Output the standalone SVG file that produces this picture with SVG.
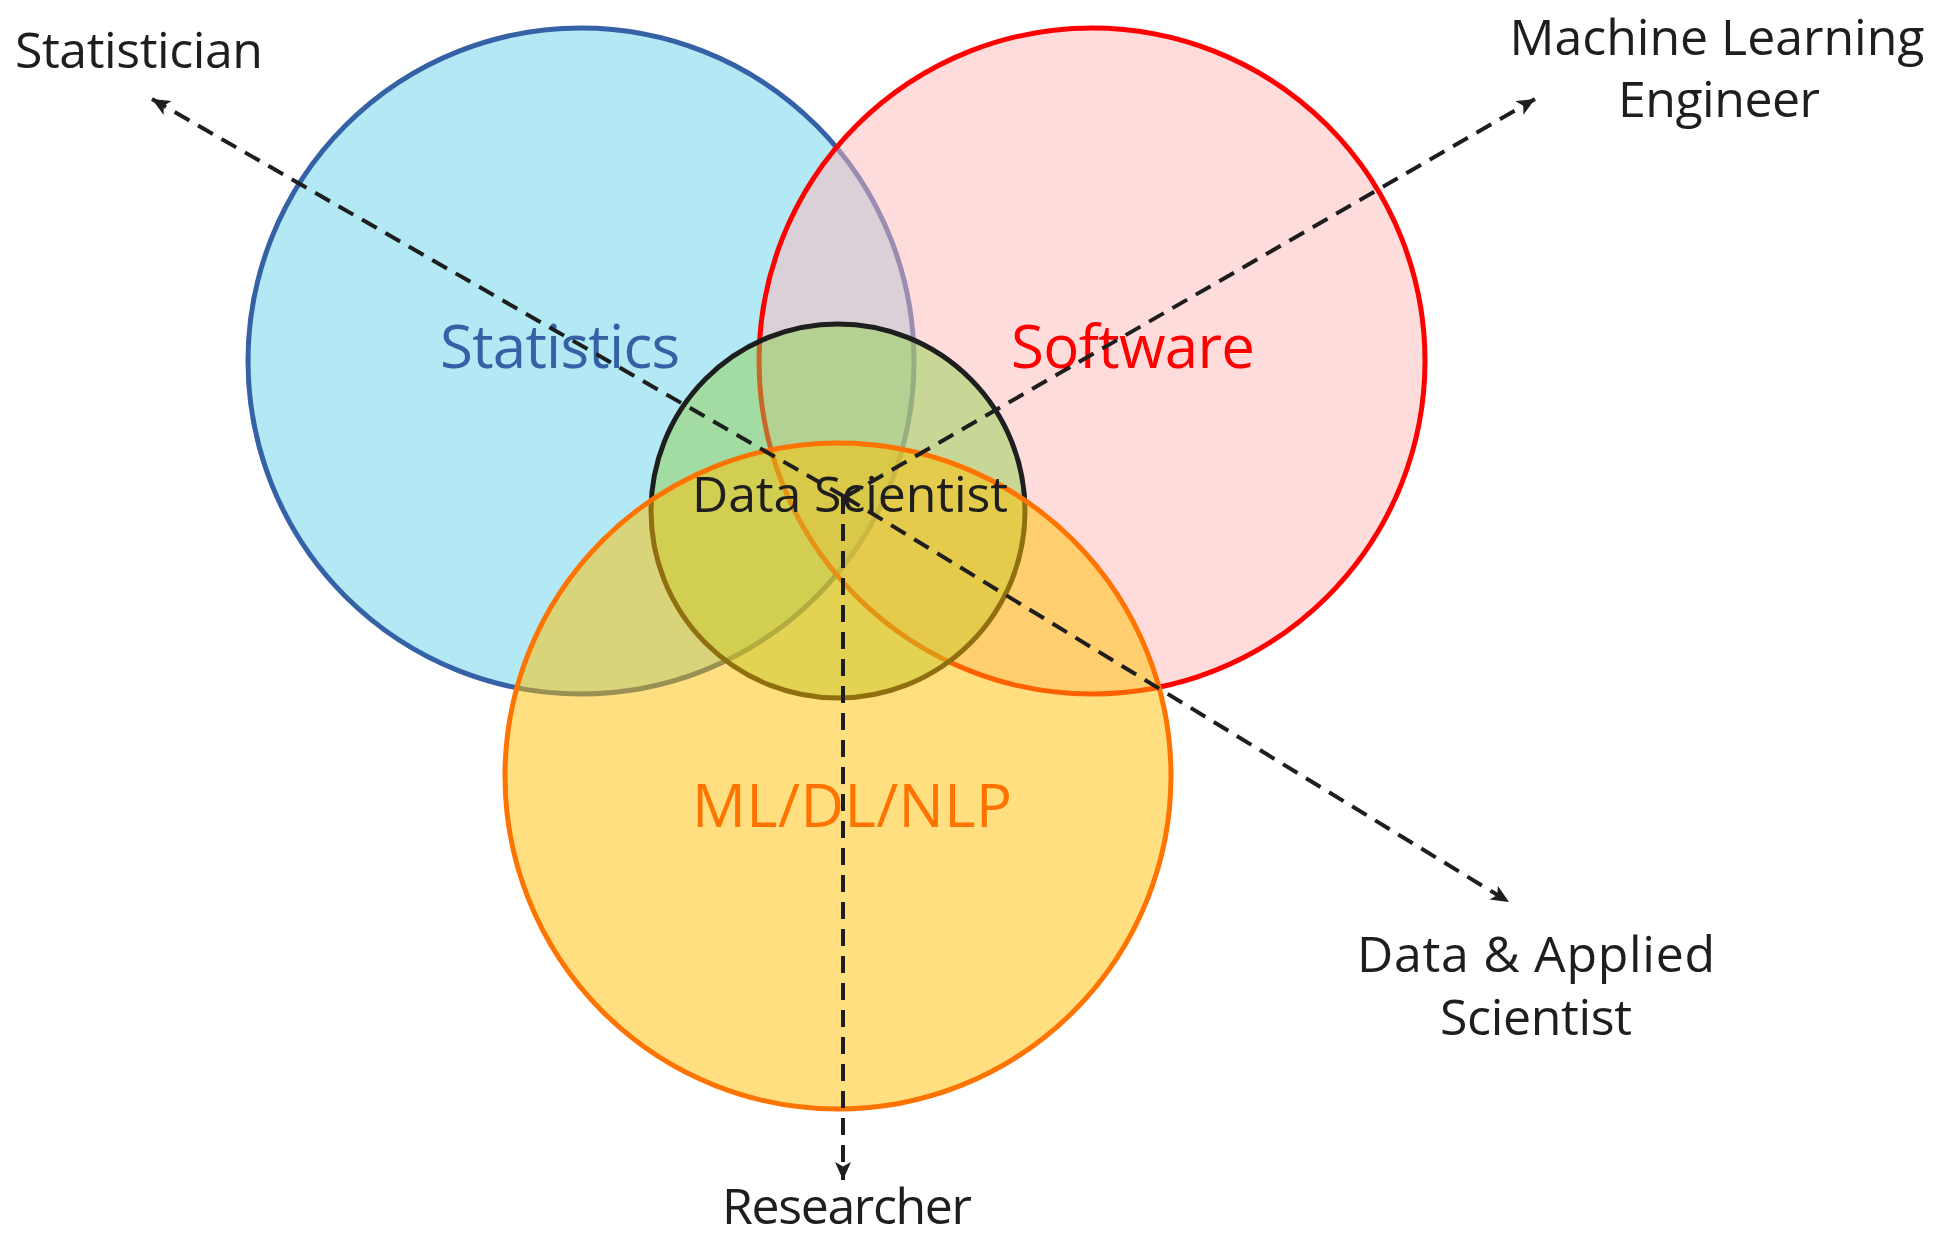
<svg xmlns="http://www.w3.org/2000/svg" width="1935" height="1239" viewBox="0 0 1935 1239">
  <style>
    .lbl { font-family: "Open Sans", "Noto Sans", "Liberation Sans", sans-serif; fill: #1e1e1e; }
    .field { font-family: "Open Sans", "Noto Sans", "Liberation Sans", sans-serif; font-size: 60px; }
    .ring { stroke-width: 5; }
    .conn { fill: none; stroke: #1e1e1e; stroke-width: 4; stroke-dasharray: 17 10; marker-end: url(#arrow); }
  </style>
  <defs>
    <marker id="arrow" markerUnits="userSpaceOnUse" markerWidth="20" markerHeight="18" refX="18" refY="8" orient="auto">
      <path d="M0,0 L18,8 L0,16 L4.5,8 Z" fill="#1e1e1e"/>
    </marker>
  </defs>
  <rect width="1935" height="1239" fill="#ffffff"/>

  <!-- Overlapping skill circles -->
  <g id="node-statistics">
    <circle class="ring" cx="581" cy="361" r="333" fill="#b3e8f5" stroke="#3561a6"/>
  </g>
  <g id="node-software">
    <circle class="ring" cx="1092" cy="361" r="333" fill="rgb(255,185,185)" fill-opacity="0.5" stroke="#ff0000"/>
  </g>
  <g id="node-data-scientist">
    <circle class="ring" cx="838" cy="511" r="187" fill="#92d050" fill-opacity="0.5" stroke="#1e1e1e"/>
  </g>
  <g id="node-ml">
    <circle class="ring" cx="838" cy="776" r="333" fill="#ffc000" fill-opacity="0.5" stroke="#ff7300"/>
  </g>

  <!-- Circle titles -->
  <g id="titles">
    <text class="field" x="560" y="368" text-anchor="middle" textLength="240" fill="#3561a6">Statistics</text>
    <text class="field" x="1133" y="368" text-anchor="middle" textLength="244" fill="#ff0000">Software</text>
    <text class="field" x="852" y="827" text-anchor="middle" textLength="320" fill="#ff7300">ML/DL/NLP</text>
    <text class="lbl" x="850" y="512" text-anchor="middle" font-size="50" textLength="316">Data Scientist</text>
  </g>

  <!-- Role labels -->
  <g id="node-statistician">
    <text class="lbl" x="15" y="68" font-size="50" textLength="248">Statistician</text>
  </g>
  <g id="node-ml-engineer">
    <text class="lbl" x="1717" y="55" text-anchor="middle" font-size="50" textLength="415">Machine Learning</text>
    <text class="lbl" x="1719" y="117" text-anchor="middle" font-size="50" textLength="202">Engineer</text>
  </g>
  <g id="node-applied-scientist">
    <text class="lbl" x="1536" y="972" text-anchor="middle" font-size="50" textLength="358">Data &amp; Applied</text>
    <text class="lbl" x="1536" y="1035" text-anchor="middle" font-size="50" textLength="192">Scientist</text>
  </g>
  <g id="node-researcher">
    <text class="lbl" x="847" y="1224" text-anchor="middle" font-size="50" textLength="250">Researcher</text>
  </g>

  <!-- Career paths radiating from the centre -->
  <g id="connectors">
    <path class="conn" d="M845,497 L152,99"/>
    <path class="conn" d="M845,497 L1535,99"/>
    <path class="conn" d="M845,497 L1509,902"/>
    <path class="conn" d="M843,497 L843,1180"/>
  </g>
</svg>
